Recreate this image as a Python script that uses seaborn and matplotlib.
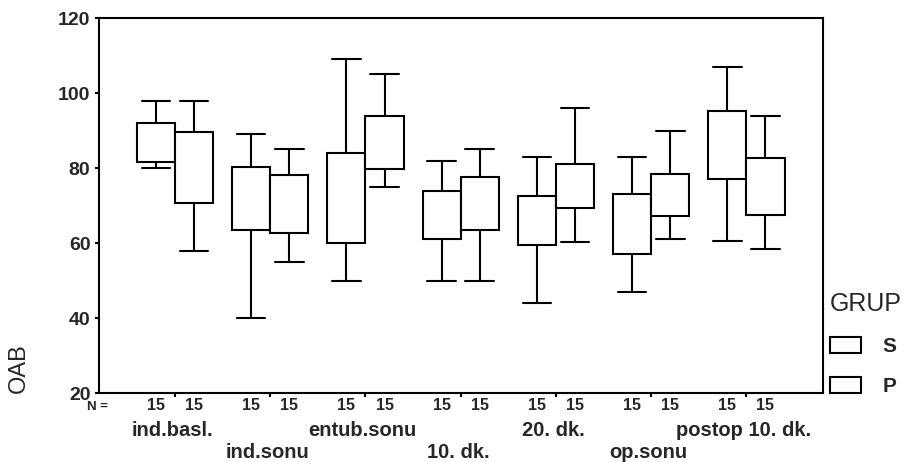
import numpy as np
import pandas as pd
import matplotlib
matplotlib.use('Agg')
import matplotlib.pyplot as plt
import seaborn as sns

# measurement times (x categories)
times = ['ind.basl.', 'ind.sonu', 'entub.sonu', '10. dk.', '20. dk.', 'op.sonu', 'postop 10. dk.']
groups = ['S', 'P']
n_counts = [15, 15, 15, 15, 15, 15, 15]

# five number summaries (median line not visible)
s_low = [80, 40, 50, 50, 44, 47, 60.5]
s_q1 = [81.5, 63.5, 60, 61, 59.5, 57.2, 77.2]
s_q3 = [92, 80.2, 84, 74, 72.5, 73, 95.2]
s_high = [98, 89, 109, 82, 83, 83, 107]

p_low = [58, 55, 75, 50, 60.3, 61, 58.3]
p_q1 = [70.8, 62.7, 79.7, 63.6, 69.4, 67.2, 67.6]
p_q3 = [89.6, 78.2, 93.8, 77.5, 81.2, 78.5, 82.8]
p_high = [98, 85, 105, 85, 96, 90, 94]


def sample_from_summary(low, q1, q3, high):
    # 15 values whose min, quartiles and max equal the summary
    return [low] + [q1] * 6 + [q3] * 7 + [high]


rows = []
for grp, lows, q1s, q3s, highs in [('S', s_low, s_q1, s_q3, s_high),
                                   ('P', p_low, p_q1, p_q3, p_high)]:
    for i, t in enumerate(times):
        for v in sample_from_summary(lows[i], q1s[i], q3s[i], highs[i]):
            rows.append({'time': t, 'GRUP': grp, 'OAB': v})
df = pd.DataFrame(rows)

sns.set_style('ticks')
plt.rcParams['font.family'] = ['Liberation Sans', 'DejaVu Sans']

fig = plt.figure(figsize=(9.06, 4.62), dpi=100)
ax = fig.add_axes([0.109, 0.149, 0.799, 0.812])

sns.boxplot(data=df, x='time', y='OAB', hue='GRUP', hue_order=groups, order=times,
            palette=['white', 'white'], linecolor='black', linewidth=1.5,
            gap=0, whis=(0, 100), medianprops={'linewidth': 0}, ax=ax)

# widen the whisker caps (SPSS style)
for ln in ax.lines:
    xd = np.asarray(ln.get_xdata(), dtype=float)
    yd = np.asarray(ln.get_ydata(), dtype=float)
    if len(xd) == 2 and yd[0] == yd[1] and ln.get_linewidth() > 0:
        span = xd[1] - xd[0]
        if 0 < abs(span) < 0.3:
            mid = xd.mean()
            ln.set_xdata([mid - 0.15, mid + 0.15])

ax.set_xlim(-0.8, 6.8)
ax.set_ylim(20, 120)
ax.set_yticks([20, 40, 60, 80, 100, 120])
ax.set_yticklabels([str(v) for v in [20, 40, 60, 80, 100, 120]],
                   fontsize=14, fontweight='bold')
ax.set_xticklabels([])
ax.set_xlabel('')
ax.tick_params(axis='both', length=3, width=1.5, color='black', direction='out', pad=3)
for sp in ax.spines.values():
    sp.set_visible(True)
    sp.set_linewidth(1.5)
    sp.set_color('black')

ax.set_ylabel('OAB', fontsize=17)
ax.yaxis.set_label_coords(-0.095, 0.067)

# N row and staggered category labels
trans = ax.get_xaxis_transform()
ax.text(-0.016, -0.036, 'N =', transform=ax.transAxes, ha='left', va='center',
        fontsize=9.5, fontweight='bold')
for i, t in enumerate(times):
    for k, off in enumerate([-0.2, 0.2]):
        ax.text(i + off, -0.034, str(n_counts[i]), transform=trans, ha='center',
                va='center', fontsize=11.5, fontweight='bold')
    ypos = -0.1 if i % 2 == 0 else -0.158
    ax.text(i - 0.03, ypos, t, transform=trans, ha='center', va='center',
            fontsize=14.5, fontweight='bold')

sns.move_legend(ax, 'upper left', bbox_to_anchor=(0.993, 0.302), title='GRUP',
                frameon=False, fontsize=15, title_fontsize=18,
                handlelength=1.5, handleheight=0.8, handletextpad=1.0,
                labelspacing=1.0, borderaxespad=0.2)
leg = ax.get_legend()
for txt in leg.get_texts():
    txt.set_fontweight('bold')
leg._legend_box.align = 'left'

fig.savefig('out.png', dpi=100)
